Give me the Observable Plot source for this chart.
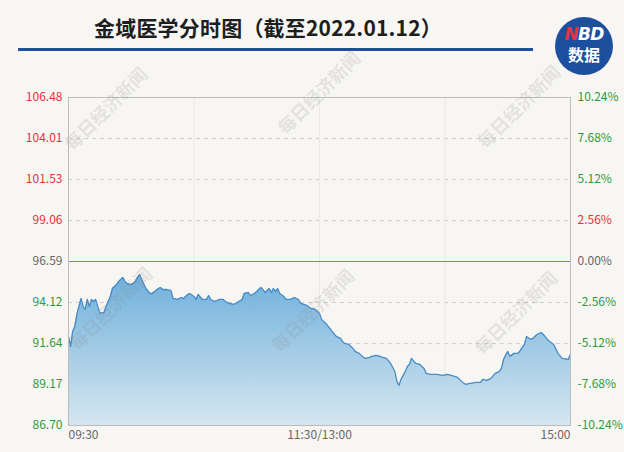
<!DOCTYPE html>
<html><head><meta charset="utf-8">
<script src="https://cdn.jsdelivr.net/npm/d3@7"></script>
<script src="https://cdn.jsdelivr.net/npm/@observablehq/plot@0.6"></script>
<style>
html,body{margin:0;padding:0;}
body{background:#f8f6f2;width:624px;height:452px;overflow:hidden;position:relative;font-family:"Noto Sans CJK SC","Noto Sans",sans-serif;}
#head{position:relative;height:60px;}
#title{position:absolute;left:0;width:536px;top:12px;text-align:center;font-size:21px;font-weight:bold;color:#1e1e1e;line-height:30px;letter-spacing:0.2px;}
#bar{position:absolute;left:18px;width:515px;top:48px;height:3px;background:#1f4f9c;}
#logo{position:absolute;left:555px;top:17px;width:58px;height:58px;border-radius:50%;background:#1c4f9e;color:#fff;text-align:center;font-weight:bold;z-index:3;}
#logo .a{position:absolute;left:0;right:0;top:7px;font-size:17px;font-style:italic;line-height:20px;font-family:"DejaVu Sans","Noto Sans",sans-serif;letter-spacing:-0.8px;}
#logo .a span{color:#e8333c;}
#logo .b{position:absolute;left:0;right:0;top:28px;font-size:16px;line-height:19px;}
#wm{position:absolute;left:0;top:0;width:624px;height:452px;pointer-events:none;z-index:2;}
#wm div{position:absolute;font-size:18px;font-weight:bold;color:rgba(140,140,140,0.2);transform:translate(-50%,-50%) rotate(-45deg);white-space:nowrap;}
svg{display:block;}
</style></head>
<body>
<div id="head">
  <div id="title">金域医学分时图（截至2022.01.12）</div>
  <div id="bar"></div>
</div>
<div id="logo"><div class="a"><span>N</span>BD</div><div class="b">数据</div></div>
<div id="chart"></div>
<div id="wm">
  <div style="left:105px;top:108px">每日经济新闻</div>
  <div style="left:318px;top:92px">每日经济新闻</div>
  <div style="left:518px;top:106px">每日经济新闻</div>
  <div style="left:110px;top:308px">每日经济新闻</div>
  <div style="left:312px;top:310px">每日经济新闻</div>
  <div style="left:515px;top:312px">每日经济新闻</div>
</div>
<script>
// minutes since 09:30 (trading minutes, 0..240)
const minute = [0,1,2,3,4,6,7,8,9,10,11,12,13,14,15,17,18,20,21,23,24,26,27,28,30,32,33,34,35,37,39,40,43,44,45,47,49,50,52,54,55,57,58,60,61,62,64,66,67,68,70,72,74,75,77,79,80,83,84,86,87,89,91,92,93,94,96,97,98,99,100,101,103,104,106,108,110,111,114,116,118,120,121,123,125,126,128,130,131,132,134,136,137,139,141,142,144,145,147,149,150,152,154,156,157,158,159,161,162,163,164,166,168,170,171,173,176,179,181,183,186,187,189,190,192,195,197,198,200,202,204,206,207,208,210,211,213,215,218,219,221,222,224,226,227,229,230,232,234,236,239,240];
const price = [92.07,91.47,92.37,92.67,93.40,94.36,93.88,93.70,94.30,93.88,94.30,94.18,94.30,93.88,93.46,93.52,93.88,94.48,94.96,95.20,95.39,95.63,95.39,95.26,95.20,95.39,95.63,95.81,95.51,94.96,94.66,94.66,94.96,95.02,94.90,94.90,94.84,94.36,94.30,94.42,94.36,94.60,94.66,94.48,94.30,94.60,94.30,94.30,94.54,94.30,94.18,94.30,94.30,94.18,94.06,94.00,94.06,94.30,94.66,94.72,94.54,94.66,94.90,95.02,94.90,94.72,94.96,94.72,94.96,94.78,94.96,94.66,94.48,94.30,94.30,94.42,94.30,94.06,93.94,93.76,93.70,93.46,93.10,92.86,92.55,92.37,92.07,91.95,91.77,91.65,91.59,91.35,91.17,91.05,90.81,90.75,90.81,90.87,90.93,90.87,90.81,90.75,90.45,89.96,89.36,89.12,89.48,89.96,90.26,90.38,90.75,90.45,90.38,90.14,89.84,89.78,89.78,89.72,89.78,89.72,89.60,89.48,89.24,89.18,89.24,89.30,89.30,89.48,89.42,89.54,89.84,89.96,90.14,90.69,91.17,90.87,91.05,91.05,91.59,92.07,91.89,91.95,92.19,92.31,92.19,91.89,91.77,91.59,91.05,90.75,90.69,90.99];

const prevClose = 96.59;
const priceTicks = [106.48,104.01,101.53,99.06,96.59,94.12,91.64,89.17,86.70];
const priceColors = ["#e8323c","#e8323c","#e8323c","#e8323c","#666666","#2e9a3e","#2e9a3e","#2e9a3e","#2e9a3e"];
const pctLabels = ["10.24%","7.68%","5.12%","2.56%","0.00%","-2.56%","-5.12%","-7.68%","-10.24%"];
const pctColors = ["#2e9a3e","#2e9a3e","#2e9a3e","#e8323c","#666666","#2e9a3e","#2e9a3e","#2e9a3e","#2e9a3e"];
const dashedGrid = [104.01,101.53,99.06,94.12,91.64,89.17];
const vGrid = [60,120,180];
const xTicks = [0,120,240];
const xLabels = ["09:30","11:30/13:00","15:00"];

const data = minute.map((m,i)=>({m, p: price[i]}));
const yMin = 86.70, yMax = 106.48;
const font = '"Noto Sans CJK SC","Noto Sans",sans-serif';

const chart = Plot.plot({
  width: 624, height: 392,
  marginTop: 37, marginBottom: 27, marginLeft: 68, marginRight: 54,
  x: {domain: [0,240], axis: null},
  y: {domain: [yMin, yMax], axis: null},
  color: {type: "identity"},
  style: {background: "transparent", fontFamily: font, fontSize: "12px"},
  marks: [
    Plot.ruleY(dashedGrid, {stroke: "#cccccc", strokeDasharray: "4,4", strokeWidth: 1}),
    Plot.ruleX(vGrid, {stroke: "#ece9e4", strokeWidth: 1}),
    Plot.areaY(data, {x: "m", y1: () => yMin, y2: "p", fill: "url(#areaGrad)", curve: "linear"}),
    Plot.lineY(data, {x: "m", y: "p", stroke: "#4a8bc4", strokeWidth: 1.3}),
    Plot.ruleY([prevClose], {stroke: "#5b8fcb", strokeWidth: 1.2}),
    Plot.frame({stroke: "#bcbcbc"}),
    Plot.text(priceTicks, {y: d => d, text: d => d.toFixed(2), frameAnchor: "left", textAnchor: "end", dx: -6, fill: (d,i) => priceColors[i]}),
    Plot.text(priceTicks, {y: d => d, text: (d,i) => pctLabels[i], frameAnchor: "right", textAnchor: "start", dx: 7, fill: (d,i) => pctColors[i]}),
    Plot.text([xTicks[0]], {x: d => d, text: () => xLabels[0], frameAnchor: "bottom", dy: 13, textAnchor: "start", fill: "#666"}),
    Plot.text([xTicks[1]], {x: d => d, text: () => xLabels[1], frameAnchor: "bottom", dy: 13, textAnchor: "middle", fill: "#666"}),
    Plot.text([xTicks[2]], {x: d => d, text: () => xLabels[2], frameAnchor: "bottom", dy: 13, textAnchor: "end", fill: "#666"})
  ]
});

const svg = d3.select(chart);
const defs = svg.insert("defs", ":first-child");
const g = defs.append("linearGradient").attr("id", "areaGrad").attr("x1", 0).attr("y1", 0).attr("x2", 0).attr("y2", 1);
g.append("stop").attr("offset", "0%").attr("stop-color", "#6eb0dc");
g.append("stop").attr("offset", "100%").attr("stop-color", "#d5e6ef");
document.getElementById("chart").appendChild(chart);
</script>
</body></html>
